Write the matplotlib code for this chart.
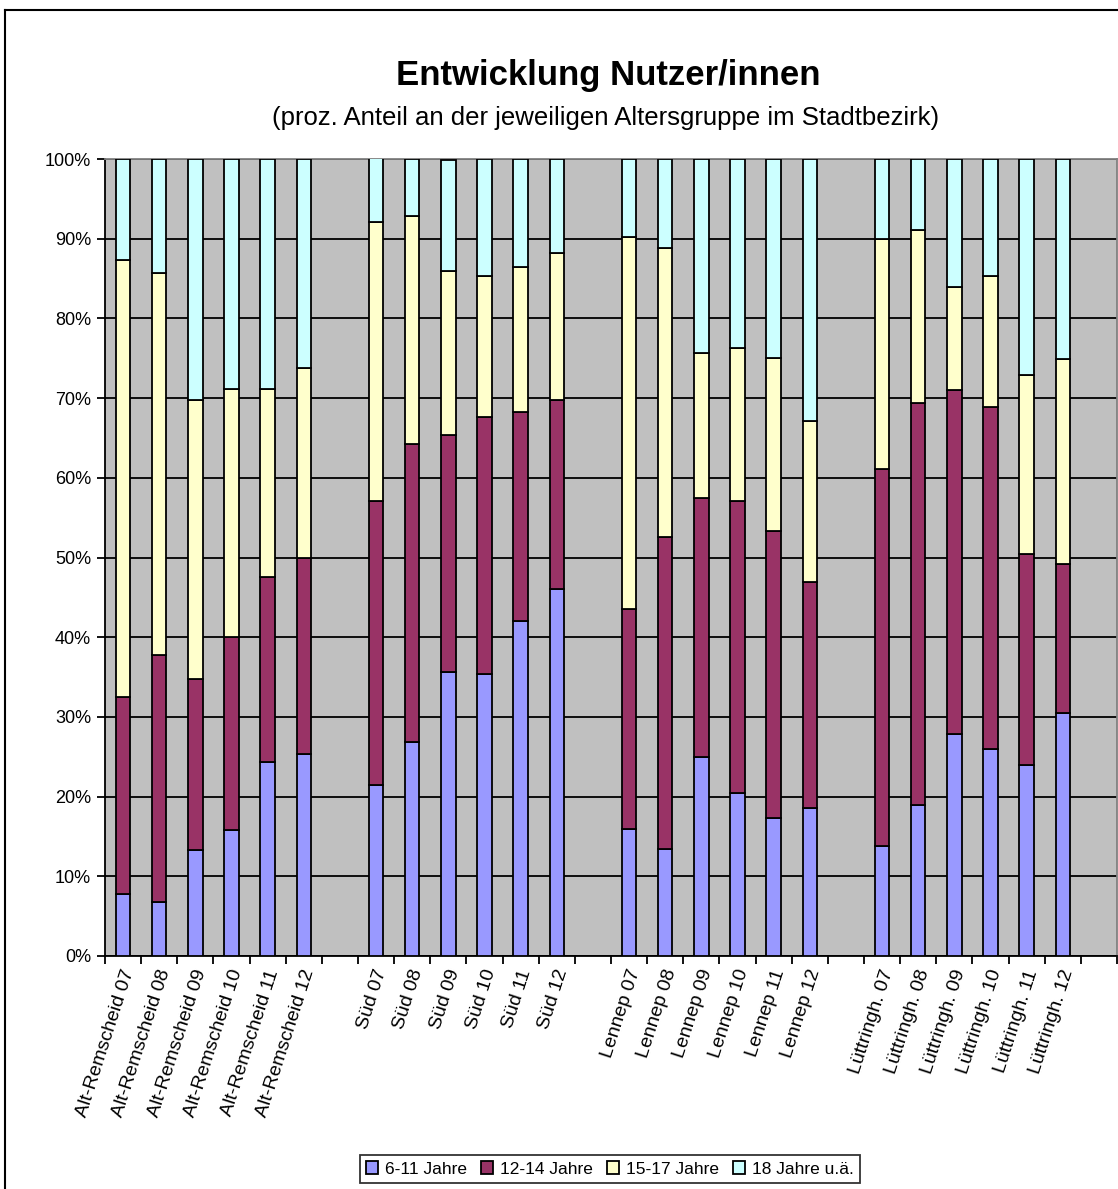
import matplotlib.pyplot as plt
import matplotlib.transforms as mtransforms
from matplotlib.lines import Line2D
import numpy as np

plt.rcParams['font.family'] = ['Liberation Sans', 'DejaVu Sans']

groups = ['Alt-Remscheid', 'Süd', 'Lennep', 'Lüttringh.']
years = ['07', '08', '09', '10', '11', '12']
labels = ['Alt-Remscheid 07', 'Alt-Remscheid 08', 'Alt-Remscheid 09', 'Alt-Remscheid 10',
          'Alt-Remscheid 11', 'Alt-Remscheid 12',
          'Süd 07', 'Süd 08', 'Süd 09', 'Süd 10', 'Süd 11', 'Süd 12',
          'Lennep 07', 'Lennep 08', 'Lennep 09', 'Lennep 10', 'Lennep 11', 'Lennep 12',
          'Lüttringh. 07', 'Lüttringh. 08', 'Lüttringh. 09', 'Lüttringh. 10',
          'Lüttringh. 11', 'Lüttringh. 12']

# shares in percent
age_6_11 = [7.8, 6.8, 13.3, 15.8, 24.4, 25.3,
            21.5, 26.9, 35.6, 35.4, 42.0, 46.1,
            15.9, 13.4, 25.0, 20.4, 17.3, 18.6,
            13.8, 19.0, 27.8, 26.0, 24.0, 30.5]
age_12_14 = [24.7, 31.0, 21.4, 24.2, 23.1, 24.7,
             35.6, 37.3, 29.8, 32.2, 26.3, 23.7,
             27.7, 39.2, 32.5, 36.7, 36.0, 28.3,
             47.3, 50.4, 43.2, 42.9, 26.5, 18.7]
age_15_17 = [54.8, 47.9, 35.1, 31.2, 23.7, 23.8,
             35.0, 28.7, 20.5, 17.7, 18.1, 18.4,
             46.6, 36.2, 18.2, 19.2, 21.7, 20.2,
             28.9, 21.7, 12.9, 16.4, 22.4, 25.7]
age_18_plus = [12.7, 14.3, 30.2, 28.8, 28.8, 26.2,
               8.0, 7.1, 14.0, 14.7, 13.6, 11.8,
               9.8, 11.2, 24.3, 23.7, 25.0, 32.9,
               10.0, 8.9, 16.1, 14.7, 27.1, 25.1]

series = [('6-11 Jahre', age_6_11, '#9999FF'),
          ('12-14 Jahre', age_12_14, '#993366'),
          ('15-17 Jahre', age_15_17, '#FFFFCC'),
          ('18 Jahre u.ä.', age_18_plus, '#CCFFFF')]

W, H = 1118, 1189
fig = plt.figure(figsize=(W / 100, H / 100), dpi=100)
ax = fig.add_axes([105 / W, 1 - 956 / H, (1117 - 105) / W, (956 - 159) / H])
ax.set_facecolor('#C0C0C0')

# each district group of 6 bars, one empty slot between groups
x = np.array([g * 7 + i for g in range(len(groups)) for i in range(len(years))])

bottom = np.zeros(len(labels))
for name, vals, col in series:
    v = np.array(vals)
    ax.bar(x, v, 0.4, bottom=bottom, color=col, edgecolor='black',
           linewidth=1.3, label=name, zorder=3)
    bottom += v

ax.set_xlim(-0.5, 27.5)
ax.set_ylim(0, 100)
ax.set_yticks(np.arange(0, 101, 10))
ax.set_yticklabels([f'{v}%' for v in range(0, 101, 10)], fontsize=13)
ax.yaxis.grid(True, color='black', linewidth=1.3, zorder=1)
ax.set_axisbelow(True)

ax.set_xticks(np.arange(-0.5, 28, 1))
ax.set_xticklabels([])
ax.set_xticks(x, minor=True)
ax.set_xticklabels(labels, minor=True, rotation=72, ha='right', va='center',
                   rotation_mode='anchor', fontsize=14)
ax.tick_params(axis='x', which='major', length=6, width=1.3, direction='out')
ax.tick_params(axis='x', which='minor', length=0, pad=10)
ax.tick_params(axis='y', length=6, width=1.3, pad=4)
offset = mtransforms.ScaledTranslation(6 / 100, 0, fig.dpi_scale_trans)
for lbl in ax.get_xticklabels(minor=True):
    lbl.set_transform(lbl.get_transform() + offset)

for s in ['left', 'bottom']:
    ax.spines[s].set_color('black')
    ax.spines[s].set_linewidth(1.3)
for s in ['top', 'right']:
    ax.spines[s].set_color('#808080')
    ax.spines[s].set_linewidth(1.3)

fig.text(608 / W, 1 - 76 / H, 'Entwicklung Nutzer/innen', ha='center', va='center',
         fontsize=25, fontweight='bold')
fig.text(606 / W, 1 - 118 / H, '(proz. Anteil an der jeweiligen Altersgruppe im Stadtbezirk)',
         ha='center', va='center', fontsize=18.5)

leg = fig.legend(loc='center', bbox_to_anchor=(610 / W, 1 - 1169 / H), ncol=4,
                 fontsize=12.5, frameon=True, fancybox=False, edgecolor='black',
                 handlelength=0.7, handleheight=0.7, handletextpad=0.4,
                 columnspacing=0.8, borderpad=0.35)
leg.get_frame().set_linewidth(1.3)

# outer chart border (left and top visible)
fig.add_artist(Line2D([5 / W, 5 / W], [0, 1 - 10 / H], color='black', linewidth=1.5,
                      transform=fig.transFigure))
fig.add_artist(Line2D([5 / W, 1], [1 - 10 / H, 1 - 10 / H], color='black', linewidth=1.5,
                      transform=fig.transFigure))

plt.savefig('out.png', dpi=100)
